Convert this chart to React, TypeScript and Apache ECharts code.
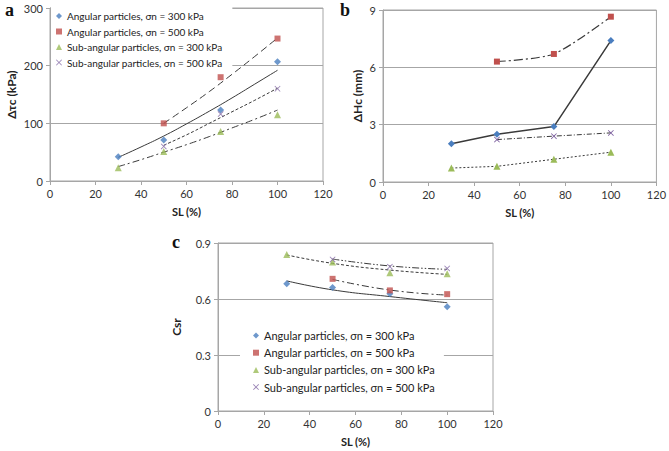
import React, { useEffect, useRef } from "react";
import * as echarts from "echarts";

// ---- data ----
const SL = [30, 50, 75, 100];
const LEGEND_NAMES = [
  "Angular particles, σn = 300 kPa",
  "Angular particles, σn = 500 kPa",
  "Sub-angular particles, σn = 300 kPa",
  "Sub-angular particles, σn = 500 kPa",
];
const X_TICKS = [0, 20, 40, 60, 80, 100, 120];

// panel a: Δτc (kPa)
const tauAng300 = [42, 71, 123, 207];
const tauAng500 = [null, 100, 180, 247];
const tauSub300 = [23, 51, 86, 115];
const tauSub500 = [null, 60, 116, 160];
const tauTrendSL = [30, 40, 50, 60, 70, 80, 90, 100];
const tauTrendAng300 = [41, 59, 78, 99, 121, 144, 168, 192];
const tauTrendAng500 = [null, null, 100, 127, 155, 185, 216, 248];
const tauTrendSub300 = [25, 37, 50, 63, 77, 92, 107, 123];
const tauTrendSub500 = [null, null, 62, 80, 100, 120, 140, 161];

// panel b: ΔHc (mm)
const hcAng300 = [2.0, 2.5, 2.9, 7.4];
const hcAng500 = [null, 6.3, 6.7, 8.65];
const hcSub300 = [0.73, 0.82, 1.19, 1.56];
const hcSub500 = [null, 2.22, 2.4, 2.57];

// panel c: Csr
const csrAng300 = [0.682, 0.662, 0.628, 0.558];
const csrAng500 = [null, 0.708, 0.646, 0.626];
const csrSub300 = [0.839, 0.798, 0.741, 0.735];
const csrSub500 = [null, 0.812, 0.773, 0.764];
const csrTrendAng300 = [0.697, 0.649, 0.613, 0.58];
const csrTrendAng500 = [null, 0.705, 0.648, 0.621];
const csrTrendSub300 = [0.836, 0.791, 0.755, 0.732];
const csrTrendSub500 = [null, 0.814, 0.777, 0.759];

// ---- styles ----
const FONT = "Lato";
const AX = "#a6a6a6";
const COLORS = ["#4a7ebf", "#c0504d", "#9bbb59", "#8064a2"];
const X_SYMBOL =
  "path://M0,1L1,0L5,4L9,0L10,1L6,5L10,9L9,10L5,6L1,10L0,9L4,5Z";
const SYMBOLS = ["diamond", "rect", "triangle", X_SYMBOL];
const SYMBOL_SIZES = [7, 6, 7, 6];
const LINE = "#3a3a3a";

const pairs = (xs: number[], ys: (number | null)[]) =>
  xs.map((x, i) => [x, ys[i]]).filter((p) => p[1] !== null && p[1] !== undefined);

export default function App() {
  const ref = useRef<HTMLDivElement>(null);

  useEffect(() => {
    if (!ref.current) return;
    const chart = echarts.init(ref.current, null, { renderer: "svg" });

    const grids = [
      { left: 50, top: 8, width: 273, height: 173 },
      { left: 383, top: 10, width: 275, height: 172 },
      { left: 218, top: 243, width: 275, height: 168 },
    ];

    const yDefs = [
      { min: 0, max: 300, interval: 100, name: "Δτc (kPa)", nameGap: 33 },
      { min: 0, max: 9, interval: 3, name: "ΔHc (mm)", nameGap: 20 },
      { min: 0, max: 0.9, interval: 0.3, name: "Csr", nameGap: 36 },
    ];

    const scatterSeries = (gi: number, vals: (number | null)[][]) =>
      vals.map((v, k) => ({
        name: LEGEND_NAMES[k],
        type: "scatter",
        xAxisIndex: gi,
        yAxisIndex: gi,
        symbol: SYMBOLS[k],
        symbolSize: SYMBOL_SIZES[k],
        itemStyle: { color: COLORS[k] },
        data: pairs(SL, v),
        z: 4,
      }));

    const trend = (
      name: string,
      gi: number,
      xs: number[],
      ys: (number | null)[],
      type: any,
      width = 1,
      smooth: any = true
    ) => ({
      name,
      type: "line",
      xAxisIndex: gi,
      yAxisIndex: gi,
      showSymbol: false,
      symbol: "none",
      smooth,
      lineStyle: { color: LINE, width, type },
      data: pairs(xs, ys),
      z: 3,
    });

    const bLine = (
      name: string,
      k: number,
      ys: (number | null)[],
      type: any,
      width: number,
      smooth: any
    ) => ({
      name,
      type: "line",
      xAxisIndex: 1,
      yAxisIndex: 1,
      symbol: SYMBOLS[k],
      symbolSize: SYMBOL_SIZES[k],
      showSymbol: true,
      smooth,
      itemStyle: { color: COLORS[k] },
      lineStyle: { color: LINE, width, type },
      data: pairs(SL, ys),
      z: 3,
    });

    const option: any = {
      animation: false,
      textStyle: { fontFamily: FONT },
      grid: grids.map((g) => ({
        ...g,
        show: true,
        borderColor: AX,
        borderWidth: 1,
        backgroundColor: "transparent",
      })),
      xAxis: grids.map((_, i) => ({
        gridIndex: i,
        type: "value",
        min: X_TICKS[0],
        max: X_TICKS[X_TICKS.length - 1],
        interval: X_TICKS[1] - X_TICKS[0],
        name: "SL (%)",
        nameLocation: "middle",
        nameGap: 25,
        nameTextStyle: { fontWeight: "bold", fontSize: 11, color: "#222", fontFamily: FONT },
        axisLine: { show: true, lineStyle: { color: AX } },
        axisTick: { show: true, length: 4, lineStyle: { color: AX } },
        axisLabel: { fontSize: 11, color: "#333", margin: 7, fontFamily: FONT },
        splitLine: { show: false },
      })),
      yAxis: yDefs.map((d, i) => ({
        gridIndex: i,
        type: "value",
        min: d.min,
        max: d.max,
        interval: d.interval,
        name: d.name,
        nameLocation: "middle",
        nameRotate: 90,
        nameGap: d.nameGap,
        nameTextStyle: { fontWeight: "bold", fontSize: 12, color: "#222", fontFamily: FONT },
        axisLine: { show: true, lineStyle: { color: AX } },
        axisTick: { show: true, length: 4, lineStyle: { color: AX } },
        axisLabel: { fontSize: 11, color: "#333", margin: 7, fontFamily: FONT },
        splitLine: { show: true, lineStyle: { color: AX, width: 1 } },
      })),
      legend: [
        {
          data: LEGEND_NAMES,
          orient: "vertical",
          left: 51,
          top: 6.5,
          padding: [3, 10, 3, 5],
          itemWidth: 6,
          itemHeight: 6,
          itemGap: 2.5,
          backgroundColor: "#fff",
          selectedMode: false,
          textStyle: { fontSize: 10, lineHeight: 13, color: "#222", fontFamily: FONT },
        },
        {
          data: LEGEND_NAMES,
          orient: "vertical",
          left: 240,
          top: 324.5,
          padding: [4, 9, 4, 13],
          itemWidth: 6,
          itemHeight: 6,
          itemGap: 3.2,
          backgroundColor: "#fff",
          selectedMode: false,
          textStyle: { fontSize: 11, lineHeight: 14, color: "#222", fontFamily: FONT },
        },
      ],
      graphic: [
        {
          type: "text",
          left: 5,
          top: 1,
          style: { text: "a", font: 'bold 18px "Liberation Serif"', fill: "#111" },
        },
        {
          type: "text",
          left: 340,
          top: 1,
          style: { text: "b", font: 'bold 18px "Liberation Serif"', fill: "#111" },
        },
        {
          type: "text",
          left: 172,
          top: 233,
          style: { text: "c", font: 'bold 18px "Liberation Serif"', fill: "#111" },
        },
      ],
      series: [
        // panel a
        ...scatterSeries(0, [tauAng300, tauAng500, tauSub300, tauSub500]),
        trend("tau trend ang300", 0, tauTrendSL, tauTrendAng300, "solid"),
        trend("tau trend ang500", 0, tauTrendSL, tauTrendAng500, [7, 4]),
        trend("tau trend sub300", 0, tauTrendSL, tauTrendSub300, [7, 3, 2, 3]),
        trend("tau trend sub500", 0, tauTrendSL, tauTrendSub500, [3, 2]),
        // panel b
        bLine("Hc ang300", 0, hcAng300, "solid", 1.5, false),
        bLine("Hc ang500", 1, hcAng500, [9, 3, 2, 3], 1.2, 0.25),
        bLine("Hc sub300", 2, hcSub300, [2, 2], 1, false),
        bLine("Hc sub500", 3, hcSub500, [5, 2, 1, 2], 1, false),
        // panel c
        ...scatterSeries(2, [csrAng300, csrAng500, csrSub300, csrSub500]),
        trend("csr trend ang300", 2, SL, csrTrendAng300, "solid"),
        trend("csr trend ang500", 2, SL, csrTrendAng500, [7, 3, 2, 3]),
        trend("csr trend sub300", 2, SL, csrTrendSub300, [3, 2]),
        trend("csr trend sub500", 2, SL, csrTrendSub500, [7, 2, 1.5, 2, 1.5, 2]),
      ],
    };

    chart.setOption(option);
    return () => chart.dispose();
  }, []);

  return (
    <div
      ref={ref}
      style={{ position: "fixed", left: 0, top: 0, width: 669, height: 451, background: "#fff" }}
    />
  );
}
